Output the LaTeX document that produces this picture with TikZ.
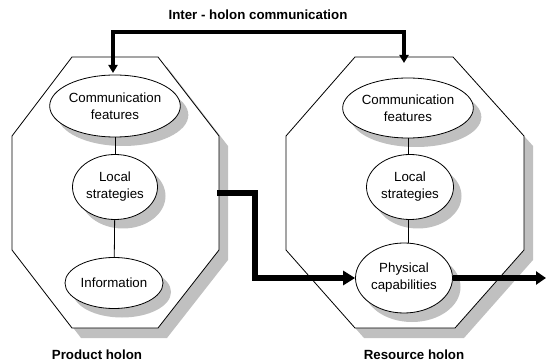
\documentclass[tikz,border=0pt]{standalone}
\usepackage{fontspec}
\setmainfont{Liberation Sans}
\usetikzlibrary{shapes.geometric,arrows.meta,shadows}
\definecolor{shadowgrey}{RGB}{192,192,192}
\begin{document}
\begin{tikzpicture}[x=1pt,y=-1pt,
  txt/.style={font=\fontsize{13.3}{17}\selectfont},
  btxt/.style={font=\fontsize{13.3}{17}\selectfont\bfseries},
  ell/.style={ellipse,draw,line width=0.8pt,fill=white,inner sep=0pt,align=center,txt,
    drop shadow={shadow xshift=8pt,shadow yshift=-9pt,fill=shadowgrey,opacity=1}},
  octo/.style={draw,line width=0.8pt,fill=white},
  octoshadow/.style={fill=shadowgrey,shift={(9,10)}},
  thin link/.style={line width=0.8pt},
  comm arrow/.style={line width=4.5pt,{Triangle[length=8pt,width=9pt]}-{Triangle[length=8pt,width=9pt]}},
  flow arrow/.style={line width=6.5pt,-{Triangle[length=12pt,width=14pt]}}
]
\useasboundingbox (0,0) rectangle (546,363);

% octagon outlines
\fill[octoshadow] (72,57) -- (158,57) -- (219,136) -- (219,250) -- (158,328) -- (72,328) -- (12,250) -- (12,136) -- cycle;
\path[octo] (72,57) -- (158,57) -- (219,136) -- (219,250) -- (158,328) -- (72,328) -- (12,250) -- (12,136) -- cycle;
\fill[octoshadow] (355,57) -- (453,57) -- (524,136) -- (524,250) -- (455,328) -- (355,328) -- (286,250) -- (286,136) -- cycle;
\path[octo] (355,57) -- (453,57) -- (524,136) -- (524,250) -- (455,328) -- (355,328) -- (286,250) -- (286,136) -- cycle;

% ellipses
\node[ell,minimum width=129pt,minimum height=62pt] (lcomm) at (115,106) {Communication\\features};
\node[ell,minimum width=85pt,minimum height=65pt] (lloc) at (115,187) {Local\\strategies};
\node[ell,minimum width=98pt,minimum height=51pt] (linfo) at (114,283) {Information};
\node[ell,minimum width=128pt,minimum height=60pt] (rcomm) at (408,108) {Communication\\features};
\node[ell,minimum width=87pt,minimum height=65pt] (rloc) at (410,187) {Local\\strategies};
\node[ell,minimum width=97pt,minimum height=70pt] (rphys) at (404,278) {Physical\\capabilities};

% thin connectors
\draw[thin link] (lcomm) -- (lloc);
\draw[thin link] (lloc) -- (linfo);
\draw[thin link] (rcomm.south) -- (rcomm.south |- rloc.north);
\draw[thin link] (rcomm.south |- rloc.south) -- (rcomm.south |- rphys.north);

% labels
\node[btxt] (title) at (258,15) {Inter - holon communication};
\node[btxt] (plabel) at (97,355) {Product holon};
\node[btxt] (rlabel) at (414,355) {Resource holon};

% inter-holon communication arrow
\coordinate (ltip) at (113,73);
\coordinate (rtip) at (404,63);
\coordinate (bar) at (258,32);
\draw[comm arrow] (ltip) |- (bar) -| (rtip);

% physical flow
\coordinate (lout) at (217,193);
\coordinate (bend) at (255,193);
\coordinate (outend) at (546,278);
\draw[flow arrow] (lout) -- (bend) |- (rphys.west);
\draw[line width=6.5pt,-{Triangle[length=10pt,width=13pt]}] (rphys.east) -- (outend);
\end{tikzpicture}
\end{document}
